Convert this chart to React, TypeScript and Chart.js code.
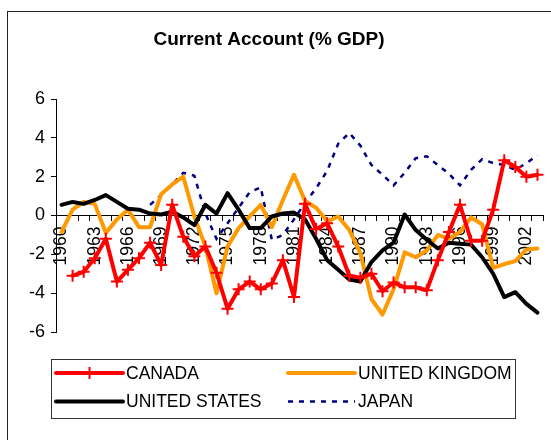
import React, { useEffect, useRef } from 'react';
import { Chart, registerables } from 'chart.js';

Chart.register(...registerables);

const TITLE = 'Current Account (% GDP)';

const YEARS = [
  '1960', '1961', '1962', '1963', '1964', '1965', '1966', '1967', '1968', '1969',
  '1970', '1971', '1972', '1973', '1974', '1975', '1976', '1977', '1978', '1979',
  '1980', '1981', '1982', '1983', '1984', '1985', '1986', '1987', '1988', '1989',
  '1990', '1991', '1992', '1993', '1994', '1995', '1996', '1997', '1998', '1999',
  '2000', '2001', '2002', '2003',
];

const CANADA = [
  null, -3.1, -2.9, -2.2, -1.2, -3.4, -2.8, -2.2, -1.4, -2.55,
  0.55, -1.1, -2.1, -1.6, -2.95, -4.8, -3.8, -3.4, -3.8, -3.5,
  -2.3, -4.2, 0.6, -0.7, -0.4, -1.6, -3.1, -3.2, -3.0, -3.9,
  -3.45, -3.7, -3.7, -3.85, -2.3, -0.85, 0.55, -1.3, -1.3, 0.3,
  2.85, 2.5, 2.0, 2.1,
];

const UNITED_KINGDOM = [
  -0.85, 0.3, 0.7, 0.6, -0.9, -0.2, 0.3, -0.6, -0.6, 1.1,
  1.6, 2.0, -0.05, -1.6, -4.0, -1.6, -0.65, -0.05, 0.55, -0.6,
  0.8, 2.1, 0.75, 0.4, -0.3, -0.05, -0.75, -1.95, -4.3, -5.1,
  -3.8, -1.9, -2.15, -1.8, -1.0, -1.2, -0.85, -0.1, -0.45, -2.7,
  -2.5, -2.35, -1.75, -1.7,
];

const UNITED_STATES = [
  0.55, 0.7, 0.6, 0.8, 1.05, 0.7, 0.35, 0.3, 0.1, 0.05,
  0.2, -0.1, -0.5, 0.55, 0.1, 1.15, 0.3, -0.65, -0.65, -0.05,
  0.1, 0.15, -0.2, -1.2, -2.3, -2.8, -3.3, -3.4, -2.4, -1.8,
  -1.4, 0.05, -0.75, -1.25, -1.7, -1.4, -1.45, -1.5, -2.15, -3.0,
  -4.2, -3.95, -4.55, -5.0,
];

const JAPAN = [
  null, null, null, null, null, null, null, null, 0.55, 1.05,
  1.6, 2.2, 2.05, 0.1, -1.2, -0.4, 0.4, 1.2, 1.45, -1.25,
  -1.0, -0.2, 0.65, 1.4, 2.3, 3.7, 4.25, 3.6, 2.6, 2.1,
  1.55, 2.2, 2.95, 3.05, 2.6, 2.15, 1.55, 2.35, 2.9, 2.7,
  2.6, 2.35, 2.7, 3.1,
];

const SERIES_NAMES = ['CANADA', 'UNITED KINGDOM', 'UNITED STATES', 'JAPAN'];
const SERIES_COLORS = ['#FF0000', '#FF9900', '#000000', '#000080'];

const FONT = '"Liberation Sans", Arial, Helvetica, sans-serif';

const framePlugin = {
  id: 'frame',
  beforeDraw(chart: any) {
    const ctx = chart.ctx;
    ctx.save();
    ctx.fillStyle = '#ffffff';
    ctx.fillRect(0, 0, chart.width, chart.height);
    ctx.restore();
  },
  afterDraw(chart: any) {
    const ctx = chart.ctx;
    ctx.save();
    // outer frame
    ctx.strokeStyle = '#222222';
    ctx.lineWidth = 1;
    ctx.strokeRect(7.5, 11.5, 700, 700);

    // title
    ctx.fillStyle = '#000000';
    ctx.font = `bold 19px ${FONT}`;
    ctx.textAlign = 'center';
    ctx.textBaseline = 'alphabetic';
    ctx.fillText(TITLE, 269, 45);

    // legend box
    ctx.strokeStyle = '#333333';
    ctx.lineWidth = 1;
    ctx.strokeRect(51.5, 359.5, 464, 59);

    const items = [
      { x: 56, y: 373, idx: 0 },
      { x: 288, y: 373, idx: 1 },
      { x: 56, y: 401.5, idx: 2 },
      { x: 288, y: 401.5, idx: 3 },
    ];
    ctx.font = `17.5px ${FONT}`;
    ctx.textAlign = 'left';
    ctx.textBaseline = 'middle';
    items.forEach((it) => {
      const color = SERIES_COLORS[it.idx];
      ctx.save();
      ctx.strokeStyle = color;
      ctx.lineCap = it.idx === 3 ? 'butt' : 'round';
      ctx.lineWidth = it.idx === 3 ? 2.5 : 4;
      if (it.idx === 3) ctx.setLineDash([5, 6]);
      ctx.beginPath();
      ctx.moveTo(it.x, it.y);
      ctx.lineTo(it.x + 67, it.y);
      ctx.stroke();
      ctx.setLineDash([]);
      if (it.idx === 0) {
        ctx.lineWidth = 2;
        ctx.lineCap = 'butt';
        ctx.beginPath();
        ctx.moveTo(it.x + 33.5, it.y - 6);
        ctx.lineTo(it.x + 33.5, it.y + 6);
        ctx.stroke();
      }
      ctx.restore();
      ctx.fillStyle = '#000000';
      ctx.fillText(SERIES_NAMES[it.idx], it.x + 70, it.y + 1);
    });
    ctx.restore();
  },
};

export default function App() {
  const canvasRef = useRef<HTMLCanvasElement | null>(null);

  useEffect(() => {
    const canvas = canvasRef.current;
    if (!canvas) return;
    Chart.defaults.font.family = FONT;
    const chart = new Chart(canvas, {
      type: 'line',
      data: {
        labels: YEARS,
        datasets: [
          {
            label: SERIES_NAMES[0],
            data: CANADA,
            borderColor: SERIES_COLORS[0],
            backgroundColor: SERIES_COLORS[0],
            borderWidth: 4,
            pointStyle: 'cross',
            pointRadius: 6,
            pointBorderWidth: 2,
            pointBorderColor: SERIES_COLORS[0],
            borderJoinStyle: 'round',
            borderCapStyle: 'round',
            tension: 0,
            fill: false,
          },
          {
            label: SERIES_NAMES[2],
            data: UNITED_STATES,
            borderColor: SERIES_COLORS[2],
            backgroundColor: SERIES_COLORS[2],
            borderWidth: 4,
            pointRadius: 0,
            borderJoinStyle: 'round',
            borderCapStyle: 'round',
            tension: 0,
            fill: false,
          },
          {
            label: SERIES_NAMES[1],
            data: UNITED_KINGDOM,
            borderColor: SERIES_COLORS[1],
            backgroundColor: SERIES_COLORS[1],
            borderWidth: 4,
            pointRadius: 0,
            borderJoinStyle: 'round',
            borderCapStyle: 'round',
            tension: 0,
            fill: false,
          },
          {
            label: SERIES_NAMES[3],
            data: JAPAN,
            borderColor: SERIES_COLORS[3],
            backgroundColor: SERIES_COLORS[3],
            borderWidth: 2.5,
            borderDash: [5, 6],
            pointRadius: 0,
            tension: 0,
            fill: false,
          },
        ],
      },
      options: {
        animation: false,
        responsive: false,
        maintainAspectRatio: false,
        layout: { padding: { left: 0, right: 6, top: 99, bottom: 108 } },
        plugins: {
          legend: { display: false },
          title: { display: false },
          tooltip: { enabled: false },
        },
        scales: {
          x: {
            type: 'category',
            position: { y: 0 } as any,
            offset: true,
            afterFit: (scale: any) => {
              scale.paddingLeft = 0;
              scale.paddingRight = 0;
              scale.paddingTop = 0;
              scale.paddingBottom = 0;
            },
            grid: {
              offset: true,
              drawOnChartArea: false,
              drawTicks: true,
              tickLength: 5,
              color: '#000000',
            },
            border: { display: true, color: '#000000', width: 1 },
            ticks: {
              autoSkip: false,
              minRotation: 90,
              maxRotation: 90,
              padding: 6,
              color: '#000000',
              font: { size: 17.5, family: FONT },
              callback: (_v: any, i: number) => (i % 3 === 0 ? YEARS[i] : ''),
            },
          },
          y: {
            type: 'linear',
            position: 'left',
            min: -6,
            max: 6,
            afterFit: (scale: any) => {
              scale.width = 56;
            },
            grid: {
              drawOnChartArea: false,
              drawTicks: true,
              tickLength: 5,
              color: '#000000',
            },
            border: { display: true, color: '#000000', width: 1 },
            ticks: {
              stepSize: 2,
              padding: 6,
              color: '#000000',
              font: { size: 18, family: FONT },
            },
          },
        },
      },
      plugins: [framePlugin],
    });
    return () => chart.destroy();
  }, []);

  return (
    <div style={{ position: 'absolute', left: 0, top: 0, width: 551, height: 440, background: '#fff' }}>
      <canvas ref={canvasRef} width={551} height={440} style={{ width: 551, height: 440, display: 'block' }} />
    </div>
  );
}
